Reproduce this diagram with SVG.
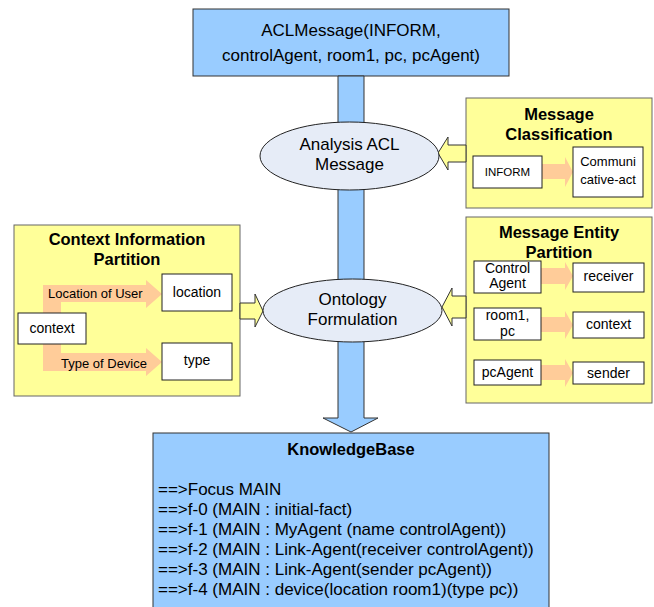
<svg xmlns="http://www.w3.org/2000/svg" width="654" height="607" viewBox="0 0 654 607">
<style>
text{font-family:"Liberation Sans",Arial,sans-serif;fill:#000}
.blue{fill:#99CCFF;stroke:#333;stroke-width:1}
.yel{fill:#FFFF99;stroke:#666;stroke-width:1}
.yarr{fill:#FFFF99;stroke:#333;stroke-width:1}
.oarr{fill:#FFCC99;stroke:none}
.ell{fill:#E6ECF7;stroke:#222;stroke-width:1}
.wbox{fill:#fff;stroke:#222;stroke-width:1}
.t17{font-size:17px}
.tb{font-size:16.5px;font-weight:bold}
.t14{font-size:14px}
.t13{font-size:13px}
.c{text-anchor:middle}
</style>
<g id="aclmessage">
<rect class="blue" x="193" y="9" width="316" height="67"/>
<text class="t17 c" x="351" y="36">ACLMessage(INFORM,</text>
<text class="t17 c" x="351" y="61">controlAgent, room1, pc, pcAgent)</text>
</g>
<g id="knowledgebase">
<rect class="blue" x="153" y="433" width="396" height="180"/>
<text class="tb c" x="351" y="455">KnowledgeBase</text>
<text class="t17" x="158" y="495">==&gt;Focus MAIN</text>
<text class="t17" x="158" y="515">==&gt;f-0 (MAIN : initial-fact)</text>
<text class="t17" x="158" y="535">==&gt;f-1 (MAIN : MyAgent (name controlAgent))</text>
<text class="t17" x="158" y="555">==&gt;f-2 (MAIN : Link-Agent(receiver controlAgent))</text>
<text class="t17" x="158" y="575">==&gt;f-3 (MAIN : Link-Agent(sender pcAgent))</text>
<text class="t17" x="158" y="595">==&gt;f-4 (MAIN : device(location room1)(type pc))</text>
</g>
<g id="message-classification">
<rect class="yel" x="466" y="98" width="186" height="110"/>
<text class="tb c" x="559" y="120">Message</text>
<text class="tb c" x="559" y="140">Classification</text>
</g>
<g id="message-entity-partition">
<rect class="yel" x="466" y="217" width="186" height="186"/>
<text class="tb c" x="559" y="238">Message Entity</text>
<text class="tb c" x="559" y="258">Partition</text>
</g>
<g id="context-information-partition">
<rect class="yel" x="14" y="225" width="226" height="171"/>
<text class="tb c" x="127" y="245">Context Information</text>
<text class="tb c" x="127" y="265">Partition</text>
</g>
<g id="connectors">
<polygon class="blue" points="338,76 364,76 364,418 378,418 351,432 323,418 338,418"/>
<polygon class="yarr" points="466,145 448,145 448,137 438,153 448,170 448,162 466,162"/>
<polygon class="yarr" points="466,296 452,296 452,288 442,307 452,326 452,318 466,318"/>
<polygon class="yarr" points="240,303 255,303 255,294 263,311 255,327 255,319 240,319"/>
<polygon class="oarr" points="542,164 565,164 565,157 573,172 565,187 565,179 542,179"/>
<polygon class="oarr" points="541,268 565,268 565,262 573,276 565,290 565,284 541,284"/>
<polygon class="oarr" points="541,317 565,317 565,311 573,325 565,339 565,332 541,332"/>
<polygon class="oarr" points="541,365 565,365 565,359 573,373 565,387 565,380 541,380"/>
<polygon class="oarr" points="43,313 43,285 146,285 146,280 162,294 146,308 146,302 61,302 61,313"/>
<polygon class="oarr" points="43,344 43,371 146,371 146,376 162,362 146,348 146,353 61,353 61,344"/>
</g>
<g id="analysis-acl-message">
<ellipse class="ell" cx="349.5" cy="156" rx="89.5" ry="34"/>
<text class="t17 c" x="349.5" y="150">Analysis ACL</text>
<text class="t17 c" x="349.5" y="170">Message</text>
</g>
<g id="ontology-formulation">
<ellipse class="ell" cx="352.5" cy="310.5" rx="89.5" ry="31.5"/>
<text class="t17 c" x="352.5" y="305">Ontology</text>
<text class="t17 c" x="352.5" y="325">Formulation</text>
</g>
<g id="inform">
<rect class="wbox" x="473" y="156" width="69" height="32"/>
<text class="c" style="font-size:11.5px" x="507.5" y="176">INFORM</text>
</g>
<g id="communicative-act">
<rect class="wbox" x="573" y="147" width="70" height="50"/>
<text class="t13 c" x="608" y="166">Communi</text>
<text class="t13 c" x="608" y="184">cative-act</text>
</g>
<g id="control-agent">
<rect class="wbox" x="474" y="261" width="67" height="32"/>
<text class="t14 c" x="507.5" y="273">Control</text>
<text class="t14 c" x="507.5" y="288">Agent</text>
</g>
<g id="receiver">
<rect class="wbox" x="573" y="263" width="71" height="29"/>
<text class="t14 c" x="608.5" y="281">receiver</text>
</g>
<g id="room1-pc">
<rect class="wbox" x="474" y="308" width="67" height="32"/>
<text class="t14 c" x="507.5" y="320">room1,</text>
<text class="t14 c" x="507.5" y="336">pc</text>
</g>
<g id="context-entity">
<rect class="wbox" x="573" y="312" width="71" height="26"/>
<text class="t14 c" x="608.5" y="329">context</text>
</g>
<g id="pcagent">
<rect class="wbox" x="474" y="360" width="67" height="25"/>
<text class="t14 c" x="507.5" y="377">pcAgent</text>
</g>
<g id="sender">
<rect class="wbox" x="573" y="362" width="71" height="22"/>
<text class="t14 c" x="608.5" y="378">sender</text>
</g>
<g id="context">
<rect class="wbox" x="18" y="313" width="68" height="31"/>
<text class="t14 c" x="52" y="333">context</text>
</g>
<g id="location">
<rect class="wbox" x="162" y="274" width="70" height="37"/>
<text class="t14 c" x="197" y="297">location</text>
</g>
<g id="type">
<rect class="wbox" x="162" y="343" width="70" height="37"/>
<text class="t14 c" x="197" y="365">type</text>
</g>
<g id="arrow-labels">
<text class="t13" x="48" y="298">Location of User</text>
<text class="t13" x="61" y="368">Type of Device</text>
</g>
</svg>
